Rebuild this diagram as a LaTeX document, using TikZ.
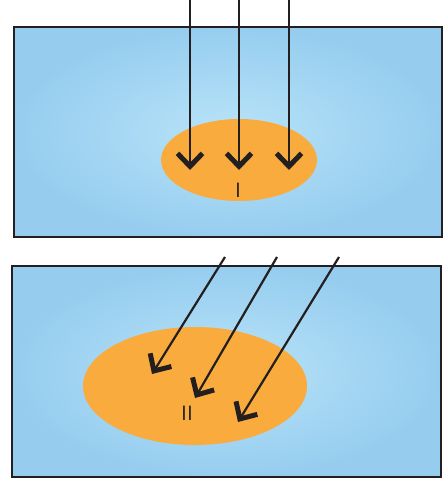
\documentclass[tikz,border=0pt]{standalone}
\usepackage{xcolor}
\usepackage{tikz}
\usetikzlibrary{arrows.meta,shapes.geometric}

\definecolor{skyedge}{HTML}{96CDEF}
\definecolor{skymid}{HTML}{B8E3F8}
\definecolor{spotfill}{HTML}{F9AC3D}
\definecolor{inkline}{HTML}{231F20}

\begin{document}
\begin{tikzpicture}[x=1pt, y=-1pt,
  panel/.style={draw=inkline, line width=1.5pt, shading=radial, inner color=skymid, outer color=skyedge, inner sep=0pt},
  spot/.style={ellipse, fill=spotfill, inner sep=0pt},
  ray/.style={-{Straight Barb[length=13pt, width=25pt, line width=5pt]}, line width=2.2pt, draw=inkline},
  tag/.style={font=\sffamily\huge, text=inkline}]
  \useasboundingbox (0,0) rectangle (445,481);
  % upper panel
  \node[panel, minimum width=428pt, minimum height=210pt] (upper) at (228,132) {};
  \node[spot, minimum width=156pt, minimum height=82pt] (spotA) at (239,160) {};
  \coordinate (a1) at (190,0);
  \coordinate (a2) at (239,0);
  \coordinate (a3) at (289,0);
  \coordinate (ha1) at (190,170);
  \coordinate (ha2) at (239,170);
  \coordinate (ha3) at (289,170);
  \draw[ray] (a1) -- (ha1);
  \draw[ray] (a2) -- (ha2);
  \draw[ray] (a3) -- (ha3);
  \node[tag] (tagA) at (238,190) {I};
  % lower panel
  \node[panel, minimum width=429pt, minimum height=211pt] (lower) at (226.5,371.5) {};
  \node[spot, minimum width=224pt, minimum height=118pt] (spotB) at (195,386) {};
  \coordinate (b1) at (225,257);
  \coordinate (b2) at (277,257);
  \coordinate (b3) at (339,257);
  \coordinate (hb1) at (152,374);
  \coordinate (hb2) at (195,398);
  \coordinate (hb3) at (238,422);
  \draw[ray] (b1) -- (hb1);
  \draw[ray] (b2) -- (hb2);
  \draw[ray] (b3) -- (hb3);
  \node[tag] (tagB) at (187,413) {II};
\end{tikzpicture}
\end{document}
